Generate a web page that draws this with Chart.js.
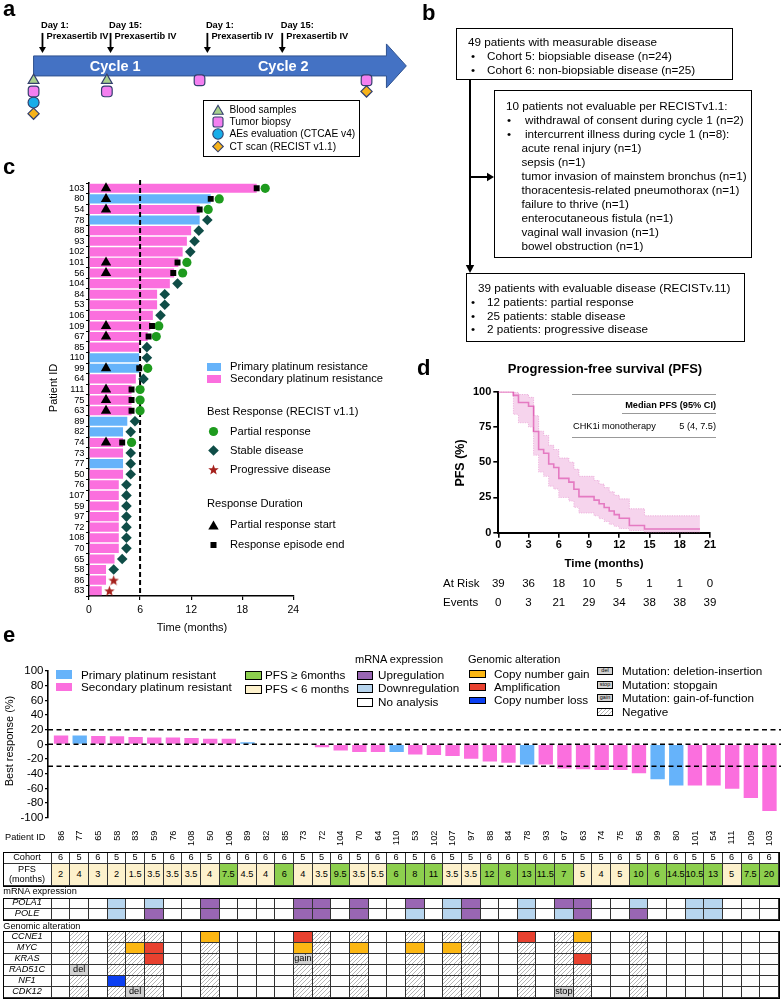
<!DOCTYPE html>
<html>
<head>
<meta charset="utf-8">
<title>Prexasertib CHK1i study figure</title>
<script src="https://cdn.jsdelivr.net/npm/chart.js@4.4.1/dist/chart.umd.min.js"></script>
<style>
  body { margin: 0; background: #fff; }
  #page { position: relative; width: 783px; height: 1000px; overflow: hidden; font-family: Arial, "Liberation Sans", Helvetica, sans-serif; color: #000; }
  #page canvas { position: absolute; }
  .t { position: absolute; white-space: nowrap; line-height: 1; }
  svg.over { position: absolute; left: 0; top: 0; }
</style>
</head>
<body>
<div id="page">
  <canvas id="timeline" width="420" height="115" style="left:0;top:15px"></canvas>
  <canvas id="swim" width="310" height="465" style="left:0;top:175px"></canvas>
  <canvas id="pfs" width="290" height="180" style="left:440px;top:380px"></canvas>
  <canvas id="waterfall" width="783" height="195" style="left:0;top:655px"></canvas>
  <svg class="over" id="over" width="783" height="1000"></svg>
</div>
<script>
// ---------- panel a: schedule (positions along the schematic timeline) ----------
const doseAt = [1.7, 14.7, 33.2, 47.5];
const doseDay = ['Day 1:', 'Day 15:', 'Day 1:', 'Day 15:'];
const cycleAt = [15.6, 47.7];
const cycleNames = ['Cycle 1', 'Cycle 2'];
const bloodAt = [0, 14];
const biopsyAt = [0, 14, 31.7, 63.6];
const aeAt = [0];
const ctAt = [0, 63.6];

// ---------- panel c: swimmer plot ----------
const swimIds = ['103','80','54','78','88','93','102','101','56','104','84','53','106','109','67','85','110','99','64','111',
                 '75','63','89','82','74','73','77','50','76','107','59','97','72','108','70','65','58','86','83'];
const swimMonths = [19.7,14.3,13,13,12,11.5,11,10.5,10,9.5,8,8,7.5,7.2,6.9,5.9,5.9,5.9,5.5,5,
                    5,5,4.5,4,4,4,4,4,3.5,3.5,3.5,3.5,3.5,3.5,3.5,3,2,2,1.5];
const primaryIds = ['80','78','110','99','89','82','77'];
const prIds = ['103','80','54','101','56','109','67','99','111','75','63','74'];
const prStart = [2,2,2,2,2,2,2,2,2,2,2,2];
const prEnd = [19.7,14.3,13,10.4,9.9,7.4,7,5.9,5,5,5,3.9];
const pdIds = ['86','83'];

// ---------- panel d: Kaplan-Meier PFS ----------
const kmTime  = [0,1.5,2,3,3.5,4,4.5,5,5.5,6,7,7.5,8,9.5,10,10.5,11,11.5,12,13,14.5,20];
const kmPfs   = [100,97.4,92.3,89.7,71.8,59.0,56.4,48.7,46.2,38.5,35.9,30.8,25.6,23.1,20.5,17.9,15.4,12.8,10.3,5.1,2.6,2.6];
const kmUpper = [100,99.6,98,96,83,72,69,62,59,53,50,45,40,37,34.5,32,29,26.5,24,17,12,12];
const kmLower = [100,84,78,75,55,43,40,33,31,25,22.5,18,14,12,10,8,6,4.5,3,1.5,0.4,0.4];
const riskTimes = [0,3,6,9,12,15,18,21];
const atRisk = [39,36,18,10,5,1,1,0];
const events = [0,3,21,29,34,38,38,39];

// ---------- panel e: waterfall + annotation table ----------
const wfIds = ['86','77','65','58','83','59','76','108','50','106','89','82','85','73','72','104','70','64','110','53',
               '102','107','97','88','84','78','93','67','63','74','75','56','99','80','101','54','111','109','103'];
const wfResp = [12,12,11.5,11,10,9.5,9.5,8.5,7.5,7.5,3,0,0,-1,-4,-8.5,-10.5,-10.5,-10.5,-14,
                -14.5,-16,-19.5,-23.5,-25,-27.5,-27.5,-33,-34,-35,-35,-39.5,-47.5,-56,-56,-56,-60.5,-73,-91];
const cohort = [6,5,6,5,5,5,6,6,5,6,6,6,6,5,5,6,5,6,6,5,6,5,5,6,6,5,6,5,5,5,6,5,6,6,5,5,6,6,6];
const pfsMonths = [2,4,3,2,1.5,3.5,3.5,3.5,4,7.5,4.5,4,6,4,3.5,9.5,3.5,5.5,6,8,11,3.5,3.5,12,8,13,11.5,7,5,4,5,10,6,14.5,10.5,13,5,7.5,20];
const pola1 = {58:'D',59:'D',50:'U',73:'U',72:'U',70:'U',53:'U',107:'D',97:'U',78:'D',67:'U',63:'U',56:'D',101:'D',54:'D'};
const pole  = {58:'D',59:'U',50:'U',73:'U',72:'U',70:'U',53:'D',107:'D',97:'U',78:'D',67:'D',63:'U',56:'U',101:'D',54:'D'};
const genomicTested = ['77','58','83','59','50','73','72','70','53','107','97','78','67','63','56'];
const genes = ['CCNE1','MYC','KRAS','RAD51C','NF1','CDK12'];
const geneCalls = {
  CCNE1: {50:'gain',73:'amp',78:'amp',63:'gain'},
  MYC: {83:'gain',59:'amp',73:'gain',70:'gain',53:'gain',107:'gain'},
  KRAS: {59:'amp',73:'mut:gain',63:'amp'},
  RAD51C: {77:'mut:del'},
  NF1: {58:'loss'},
  CDK12: {83:'mut:del',67:'mut:stop'}
};

const BLUE = '#66b3fa', PINK = '#fb6fde';
const GREEN_PFS = '#8dcf4e', BEIGE = '#fdf1cc', PURPLE = '#9966b3', LIGHTBLUE = '#b7d5ee';
const ORANGE = '#fcb713', RED = '#e8412f', LOSS = '#0b3ff2', MUTGRAY = '#d3d3d3';
const HATCH = 'repeating-linear-gradient(135deg,#fff 0 2.2px,#b5b5b5 2.2px 3px)';

Chart.defaults.font.family = 'Arial, "Liberation Sans", Helvetica, sans-serif';
Chart.defaults.color = '#000';
Chart.defaults.animation = false;

const page = document.getElementById('page');
function put(html, x, y, css, align) {
  const d = document.createElement('div');
  d.className = 't';
  d.innerHTML = html;
  const tx = align === 'c' ? '-50%' : align === 'r' ? '-100%' : '0';
  d.style.cssText = `left:${x}px;top:${y}px;transform:translate(${tx},-50%);` + (css || '');
  page.appendChild(d);
  return d;
}
function rect(x, y, w, h, css) {
  const d = document.createElement('div');
  d.style.cssText = `position:absolute;left:${x}px;top:${y}px;width:${w}px;height:${h}px;box-sizing:border-box;` + (css || '');
  page.appendChild(d);
  return d;
}
function starPoints(cx, cy, R, r) {
  const p = [];
  for (let i = 0; i < 10; i++) {
    const rad = i % 2 ? r : R, a = -Math.PI / 2 + i * Math.PI / 5;
    p.push((cx + rad * Math.cos(a)).toFixed(2) + ',' + (cy + rad * Math.sin(a)).toFixed(2));
  }
  return p.join(' ');
}
function starImage(size, color) {
  const c = document.createElement('canvas');
  c.width = c.height = size;
  const g = c.getContext('2d');
  g.fillStyle = color;
  g.beginPath();
  for (let i = 0; i < 10; i++) {
    const r = i % 2 ? size * 0.21 : size * 0.5, a = -Math.PI / 2 + i * Math.PI / 5;
    g.lineTo(size / 2 + r * Math.cos(a), size / 2 + 0.6 + r * Math.sin(a));
  }
  g.closePath();
  g.fill();
  return c;
}
let svg = '';

// panel letters
const letterCss = 'font-weight:bold;font-size:22px';
put('a', 3, 9, letterCss);
put('b', 422, 12.5, letterCss);
put('c', 3, 167, letterCss);
put('d', 417, 368, letterCss);
put('e', 3, 634.5, letterCss);

// ================= panel a =================
const markerKinds = [
  { at: bloodAt, style: 'triangle', fill: '#a8d08d', r: 6.2 },
  { at: biopsyAt, style: 'rectRounded', fill: '#f47ff0', r: 6.2 },
  { at: aeAt, style: 'circle', fill: '#17ade9', r: 5.5 },
  { at: ctAt, style: 'rectRot', fill: '#f6b21b', r: 5.6 }
];
const stackCount = {};
const timelineSets = markerKinds.map(k => ({
  data: k.at.map(x => { const row = stackCount[x] || 0; stackCount[x] = row + 1; return { x, y: row }; }),
  pointStyle: k.style, pointRadius: k.r, backgroundColor: k.fill, borderColor: '#34406e', borderWidth: 1.2
}));
const timelineDecor = {
  id: 'timelineDecor',
  beforeDatasetsDraw(chart) {
    const { ctx, scales: { x, y } } = chart;
    const yc = y.getPixelForValue(-1.29);
    const x0 = x.getPixelForValue(0), xh = x.getPixelForValue(67.4), xt = x.getPixelForValue(71.2);
    ctx.save();
    ctx.fillStyle = '#4472c4';
    ctx.strokeStyle = '#2f528f';
    ctx.lineWidth = 1;
    ctx.beginPath();
    ctx.moveTo(x0, yc - 10); ctx.lineTo(xh, yc - 10); ctx.lineTo(xh, yc - 22); ctx.lineTo(xt, yc);
    ctx.lineTo(xh, yc + 22); ctx.lineTo(xh, yc + 10); ctx.lineTo(x0, yc + 10); ctx.closePath();
    ctx.fill(); ctx.stroke();
    ctx.fillStyle = '#000'; ctx.strokeStyle = '#000'; ctx.lineWidth = 1.8;
    doseAt.forEach(d => {
      const px = x.getPixelForValue(d), tip = yc - 13;
      ctx.beginPath(); ctx.moveTo(px, tip - 20); ctx.lineTo(px, tip - 5); ctx.stroke();
      ctx.beginPath(); ctx.moveTo(px - 3.5, tip - 6); ctx.lineTo(px + 3.5, tip - 6); ctx.lineTo(px, tip); ctx.closePath(); ctx.fill();
    });
    ctx.restore();
  }
};
const timelineChart = new Chart(document.getElementById('timeline'), {
  type: 'scatter',
  data: { datasets: timelineSets },
  options: {
    responsive: false,
    layout: { padding: 0 },
    plugins: { legend: { display: false }, tooltip: { enabled: false } },
    scales: {
      x: { type: 'linear', min: -5, max: 72.4, display: false },
      y: { type: 'linear', min: -5.2, max: 3.8, reverse: true, display: false }
    }
  },
  plugins: [timelineDecor]
});
doseAt.forEach((d, i) => {
  const px = timelineChart.scales.x.getPixelForValue(d);
  put(doseDay[i], px - 1.5, 26, 'font-weight:bold;font-size:9.3px');
  put('Prexasertib IV', px + 4, 36.5, 'font-weight:bold;font-size:9.3px');
});
cycleAt.forEach((c, i) => {
  put(cycleNames[i], timelineChart.scales.x.getPixelForValue(c), 65.5, 'color:#fff;font-weight:bold;font-size:14.5px', 'c');
});
rect(202.7, 100, 157.3, 57, 'border:1.6px solid #000');
svg += `<polygon points="212.8,114.3 223.2,114.3 218,105.3" fill="#a8d08d" stroke="#34406e" stroke-width="1.1"/>`;
svg += `<rect x="213" y="117" width="10" height="10" rx="2" fill="#f47ff0" stroke="#34406e" stroke-width="1.1"/>`;
svg += `<circle cx="218" cy="134" r="5.2" fill="#17ade9" stroke="#34406e" stroke-width="1.1"/>`;
svg += `<polygon points="218,141.2 223.3,146.5 218,151.8 212.7,146.5" fill="#f6b21b" stroke="#34406e" stroke-width="1.1"/>`;
['Blood samples', 'Tumor biopsy', 'AEs evaluation (CTCAE v4)', 'CT scan (RECIST v1.1)'].forEach((s, i) => {
  put(s, 229.5, 110 + i * 12.2, 'font-size:10.2px');
});

// ================= panel b =================
const fb = 'font-size:11.7px';
rect(456, 28, 277, 52, 'border:1.6px solid #000');
put('49 patients with measurable disease', 468, 42, fb);
put('•', 471, 55.5, fb); put('Cohort 5: biopsiable disease (n=24)', 487, 55.5, fb);
put('•', 471, 69.5, fb); put('Cohort 6: non-biopsiable disease (n=25)', 487, 69.5, fb);
rect(494, 90, 258, 168, 'border:1.6px solid #000');
put('10 patients not evaluable per RECISTv1.1:', 506, 106, fb);
put('•', 507, 120, fb); put('withdrawal of consent during cycle 1 (n=2)', 525, 120, fb);
put('•', 507, 134, fb); put('intercurrent illness during cycle 1 (n=8):', 525, 134, fb);
['acute renal injury (n=1)', 'sepsis (n=1)', 'tumor invasion of mainstem bronchus (n=1)',
 'thoracentesis-related pneumothorax (n=1)', 'failure to thrive (n=1)', 'enterocutaneous fistula (n=1)',
 'vaginal wall invasion (n=1)', 'bowel obstruction (n=1)'].forEach((s, i) => put(s, 521.5, 148 + i * 14, fb));
rect(466, 273, 279, 69, 'border:1.6px solid #000');
put('39 patients with evaluable disease (RECISTv.11)', 478, 288, fb);
put('•', 471, 302, fb); put('12 patients: partial response', 487, 302, fb);
put('•', 471, 315.5, fb); put('25 patients: stable disease', 487, 315.5, fb);
put('•', 471, 329, fb); put('2 patients: progressive disease', 487, 329, fb);
svg += `<line x1="470" y1="80" x2="470" y2="266" stroke="#000" stroke-width="2"/>`;
svg += `<polygon points="465.8,265 474.2,265 470,273" fill="#000"/>`;
svg += `<line x1="470" y1="177" x2="488" y2="177" stroke="#000" stroke-width="2"/>`;
svg += `<polygon points="487,172.8 487,181.2 494,177" fill="#000"/>`;

// ================= panel c =================
const sdIds = swimIds.filter(id => !prIds.includes(id) && !pdIds.includes(id));
const bestAt = id => swimMonths[swimIds.indexOf(id)] + 1;
const sixMonthLine = {
  id: 'sixMonthLine',
  afterDatasetDraw(chart, args) {
    if (args.meta.type !== 'bar') return;
    const { ctx, chartArea, scales: { x } } = chart;
    const px = x.getPixelForValue(6);
    ctx.save();
    ctx.strokeStyle = '#000'; ctx.lineWidth = 2; ctx.setLineDash([5, 3]);
    ctx.beginPath(); ctx.moveTo(px, chartArea.top - 3); ctx.lineTo(px, chartArea.bottom); ctx.stroke();
    ctx.restore();
  }
};
new Chart(document.getElementById('swim'), {
  type: 'bar',
  data: {
    labels: swimIds,
    datasets: [
      { type: 'scatter', order: 0, data: prIds.map((id, i) => ({ x: prStart[i], y: id })),
        pointStyle: 'triangle', pointRadius: 6, backgroundColor: '#000', borderColor: '#000', borderWidth: 0 },
      { type: 'scatter', order: 0, data: prIds.map((id, i) => ({ x: prEnd[i], y: id })),
        pointStyle: 'rect', pointRadius: 4.2, backgroundColor: '#000', borderWidth: 0 },
      { type: 'scatter', order: 0, data: prIds.map(id => ({ x: bestAt(id), y: id })),
        pointStyle: 'circle', pointRadius: 4.6, backgroundColor: '#1e9b1e', borderWidth: 0 },
      { type: 'scatter', order: 0, data: sdIds.map(id => ({ x: bestAt(id) - 0.1, y: id })),
        pointStyle: 'rectRot', pointRadius: 5.3, backgroundColor: '#0f4d47', borderWidth: 0 },
      { type: 'scatter', order: 0, data: pdIds.map(id => ({ x: bestAt(id) - 0.1, y: id })),
        pointStyle: starImage(11, '#a5201c'), pointRadius: 5 },
      { order: 10, data: swimMonths, backgroundColor: swimIds.map(id => primaryIds.includes(id) ? BLUE : PINK),
        barPercentage: 0.86, categoryPercentage: 1 }
    ]
  },
  options: {
    indexAxis: 'y',
    responsive: false,
    layout: { padding: { top: 8, right: 16.7, left: 0, bottom: 0 } },
    plugins: { legend: { display: false }, tooltip: { enabled: false } },
    scales: {
      x: { type: 'linear', min: 0, max: 24, ticks: { stepSize: 6, font: { size: 10.5 }, padding: 4 },
           grid: { drawOnChartArea: false, color: '#000', tickLength: 4, lineWidth: 1.2 },
           border: { color: '#000', width: 1.6 }, afterFit(s) { s.height = 44; } },
      y: { type: 'category', ticks: { font: { size: 9.3 }, padding: 1.5, autoSkip: false },
           grid: { drawOnChartArea: false, color: '#000', tickLength: 3, lineWidth: 1 },
           border: { color: '#000', width: 1.6 }, afterFit(s) { s.width = 89; } }
    }
  },
  plugins: [sixMonthLine]
});
put('Patient ID', 53, 388, 'font-size:11px;transform:translate(-50%,-50%) rotate(-90deg)');
put('Time (months)', 192, 627, 'font-size:11px', 'c');
rect(206.7, 362.7, 14.3, 8, `background:${BLUE}`);
rect(206.7, 375, 14.3, 8, `background:${PINK}`);
const fc = 'font-size:11.2px';
put('Primary platinum resistance', 230, 366.7, fc);
put('Secondary platinum resistance', 230, 379, fc);
put('Best Response (RECIST v1.1)', 207, 411.5, fc);
svg += `<circle cx="213.5" cy="431.5" r="4.6" fill="#1e9b1e"/>`;
svg += `<polygon points="213.5,445.2 218.8,450.5 213.5,455.8 208.2,450.5" fill="#0f4d47"/>`;
svg += `<polygon points="${starPoints(213.5, 470, 5.5, 2.3)}" fill="#a5201c"/>`;
put('Partial response', 230, 431.5, fc);
put('Stable disease', 230, 450.5, fc);
put('Progressive disease', 230, 469.5, fc);
put('Response Duration', 207, 504, fc);
svg += `<polygon points="208.3,529.5 218.7,529.5 213.5,520.5" fill="#000"/>`;
svg += `<rect x="210.5" y="542" width="6" height="6" fill="#000"/>`;
put('Partial response start', 230, 525, fc);
put('Response episode end', 230, 545, fc);

// ================= panel d =================
const pts = arr => kmTime.map((t, i) => ({ x: t, y: arr[i] }));
const boldTick = { size: 11, weight: 'bold' };
const kmChart = new Chart(document.getElementById('pfs'), {
  type: 'line',
  data: {
    datasets: [
      { data: pts(kmUpper), stepped: true, borderColor: 'rgba(222,110,190,0.6)', borderWidth: 0.8, borderDash: [1.2, 1.2],
        pointRadius: 0, fill: '+1', backgroundColor: 'rgba(238,170,220,0.5)' },
      { data: pts(kmLower), stepped: true, borderColor: 'rgba(222,110,190,0.6)', borderWidth: 0.8, borderDash: [1.2, 1.2],
        pointRadius: 0, fill: false },
      { data: pts(kmPfs), stepped: true, borderColor: '#dc4aa9', borderWidth: 1.6, pointRadius: 0, fill: false }
    ]
  },
  options: {
    responsive: false,
    layout: { padding: { top: 11.7, right: 20, left: 0, bottom: 0 } },
    plugins: { legend: { display: false }, tooltip: { enabled: false } },
    scales: {
      x: { type: 'linear', min: 0, max: 21, ticks: { stepSize: 3, font: boldTick, padding: 1 },
           grid: { drawOnChartArea: false, color: '#000', tickLength: 5, lineWidth: 1.6 },
           border: { color: '#000', width: 2 }, afterFit(s) { s.height = 27.3; } },
      y: { min: 0, max: 100, ticks: { stepSize: 25, font: boldTick, padding: 2 },
           grid: { drawOnChartArea: false, color: '#000', tickLength: 5, lineWidth: 1.6 },
           border: { color: '#000', width: 2 }, afterFit(s) { s.width = 58.3; } }
    }
  }
});
put('Progression-free survival (PFS)', 605, 368, 'font-weight:bold;font-size:13px', 'c');
put('PFS (%)', 460, 463, 'font-weight:bold;font-size:12.5px;transform:translate(-50%,-50%) rotate(-90deg)');
put('Time (months)', 604, 563.5, 'font-weight:bold;font-size:11.5px', 'c');
rect(571.7, 393.5, 144.3, 1, 'background:#999');
rect(622, 412.5, 94, 1, 'background:#999');
rect(571.7, 436.5, 144.3, 1, 'background:#999');
put('Median PFS (95% CI)', 716, 405.5, 'font-weight:bold;font-size:9.2px', 'r');
put('CHK1i monotherapy', 573, 426.5, 'font-size:9.2px');
put('5 (4, 7.5)', 716, 426.5, 'font-size:9.2px', 'r');
put('At Risk', 443, 583.5, 'font-size:11.5px');
put('Events', 443, 603, 'font-size:11.5px');
riskTimes.forEach((t, i) => {
  const px = 440 + kmChart.scales.x.getPixelForValue(t);
  put(String(atRisk[i]), px, 583.5, 'font-size:11.5px', 'c');
  put(String(events[i]), px, 603, 'font-size:11.5px', 'c');
});

// ================= panel e =================
const refLines = {
  id: 'refLines',
  afterDatasetsDraw(chart) {
    const { ctx, chartArea, scales: { y } } = chart;
    ctx.save();
    ctx.strokeStyle = '#000'; ctx.lineWidth = 1.5; ctx.setLineDash([5, 3.5]);
    [20, 0, -30].forEach(v => {
      const py = y.getPixelForValue(v);
      ctx.beginPath(); ctx.moveTo(chartArea.left, py); ctx.lineTo(chart.width - 2, py); ctx.stroke();
    });
    ctx.restore();
  }
};
const wfChart = new Chart(document.getElementById('waterfall'), {
  type: 'bar',
  data: {
    datasets: [{
      data: wfResp.map((v, i) => ({ x: i, y: v })),
      backgroundColor: wfIds.map(id => primaryIds.includes(id) ? BLUE : PINK),
      barPercentage: 0.77, categoryPercentage: 1
    }]
  },
  options: {
    responsive: false,
    layout: { padding: { top: 16, right: 4.2, left: 0, bottom: 0 } },
    plugins: { legend: { display: false }, tooltip: { enabled: false } },
    scales: {
      x: { type: 'linear', offset: false, min: -0.7, max: 38.5, ticks: { display: false },
           grid: { display: false }, border: { display: false }, afterFit(s) { s.height = 32.3; } },
      y: { min: -100, max: 100, ticks: { stepSize: 20, font: { size: 11.5 }, padding: 1.5, autoSkip: false },
           grid: { drawOnChartArea: false, color: '#000', tickLength: 3, lineWidth: 1.2 },
           border: { color: '#000', width: 1.6 }, afterFit(s) { s.width = 48; } }
    }
  },
  plugins: [refLines]
});
put('Best response (%)', 9, 740.5, 'font-size:11px;transform:translate(-50%,-50%) rotate(-90deg)');
put('Patient ID', 5, 838, 'font-size:9.2px');
const xs = wfChart.scales.x;
// patient IDs, rotated, hanging below the waterfall at each bar
wfIds.forEach((id, i) => {
  const px = xs.getPixelForValue(i);
  const d = document.createElement('div');
  d.className = 't';
  d.textContent = id;
  d.style.cssText = `right:${783 - px}px;top:${831 - 4.6}px;font-size:9.2px;transform-origin:100% 50%;transform:rotate(-90deg)`;
  page.appendChild(d);
});

// legend
const fe = 'font-size:11.7px';
rect(56, 670, 16, 8.5, `background:${BLUE}`);
put('Primary platinum resistant', 81, 674.5, fe);
rect(56, 682.5, 16, 8.5, `background:${PINK}`);
put('Secondary platinum resistant', 81, 687, fe);
const sw = 'border:1.3px solid #000;';
rect(245, 670.5, 16.5, 9, sw + `background:${GREEN_PFS}`);
put('PFS ≥ 6months', 265, 674.5, fe);
rect(245, 684.5, 16.5, 9, sw + `background:${BEIGE}`);
put('PFS &lt; 6 months', 265, 688.5, fe);
put('mRNA expression', 355, 659, 'font-size:11px');
rect(357, 670.5, 16, 9, sw + `background:${PURPLE}`);
put('Upregulation', 378, 674.5, fe);
rect(357, 684, 16, 9, sw + `background:${LIGHTBLUE}`);
put('Downregulation', 378, 688, fe);
rect(357, 697.5, 16, 9, sw + 'background:#fff');
put('No analysis', 378, 702, fe);
put('Genomic alteration', 468, 659, 'font-size:11px');
rect(469, 670, 17, 7.5, sw + `background:${ORANGE}`);
put('Copy number gain', 494, 673.5, fe);
rect(469, 683, 17, 7.5, sw + `background:${RED}`);
put('Amplification', 494, 686.5, fe);
rect(469, 696.5, 17, 7.5, sw + `background:${LOSS}`);
put('Copy number loss', 494, 700, fe);
const mutSw = sw + `background:${MUTGRAY};font-size:5.5px;display:flex;align-items:center;justify-content:center;line-height:1`;
rect(597, 667.3, 16, 7.5, mutSw).textContent = 'del';
put('Mutation: deletion-insertion', 622, 671, fe);
rect(597, 681, 16, 7.5, mutSw).textContent = 'stop';
put('Mutation: stopgain', 622, 684.7, fe);
rect(597, 694.3, 16, 7.5, mutSw).textContent = 'gain';
put('Mutation: gain-of-function', 622, 698, fe);
rect(597, 708.3, 16, 7.5, sw + `background:${HATCH}`);
put('Negative', 622, 712, fe);

// annotation tables aligned with waterfall bars
const colW = xs.getPixelForValue(1) - xs.getPixelForValue(0);
const colLeft = i => xs.getPixelForValue(i) - colW / 2;
const tableLeft = 3.3;
const cellBase = 'border-right:1px solid #333;border-bottom:1px solid #333;display:flex;align-items:center;justify-content:center;text-align:center;line-height:1.05;font-size:9.2px;';
function gridTable(top, rows) {
  let y = top;
  rows.forEach(row => {
    rect(tableLeft, y, colLeft(0) - tableLeft, row.h, cellBase + (row.italic ? 'font-style:italic;' : '')).innerHTML = row.label;
    row.cells.forEach((c, i) => {
      let css = cellBase;
      if (c.hatch) css += `background:${HATCH};`;
      else if (c.bg) css += `background:${c.bg};`;
      rect(colLeft(i), y, colW, row.h, css).textContent = c.text || '';
    });
    y += row.h;
  });
  rect(tableLeft - 0.6, top - 0.6, colLeft(wfIds.length) - tableLeft + 1.8, y - top + 1.2, 'border:1.5px solid #000');
}
gridTable(852.7, [
  { label: 'Cohort', h: 11.5, cells: cohort.map(v => ({ text: String(v) })) },
  { label: 'PFS<br>(months)', h: 21.8, cells: pfsMonths.map(v => ({ text: String(v), bg: v >= 6 ? GREEN_PFS : BEIGE })) }
]);
put('mRNA expression', 3.3, 892, 'font-size:9.2px');
const mrnaColor = code => code === 'U' ? PURPLE : code === 'D' ? LIGHTBLUE : '#fff';
gridTable(898.3, [
  { label: 'POLA1', h: 11, italic: true, cells: wfIds.map(id => ({ bg: mrnaColor(pola1[id]) })) },
  { label: 'POLE', h: 11, italic: true, cells: wfIds.map(id => ({ bg: mrnaColor(pole[id]) })) }
]);
put('Genomic alteration', 3.3, 926.5, 'font-size:9.2px');
const altColor = { gain: ORANGE, amp: RED, loss: LOSS };
gridTable(931.5, genes.map(g => ({
  label: g, h: 11.1, italic: true,
  cells: wfIds.map(id => {
    const call = geneCalls[g][id];
    if (!call) return genomicTested.includes(id) ? { hatch: true } : {};
    if (call.startsWith('mut:')) return { bg: MUTGRAY, text: call.slice(4) };
    return { bg: altColor[call] };
  })
})));

document.getElementById('over').innerHTML = svg;
</script>
</body>
</html>
